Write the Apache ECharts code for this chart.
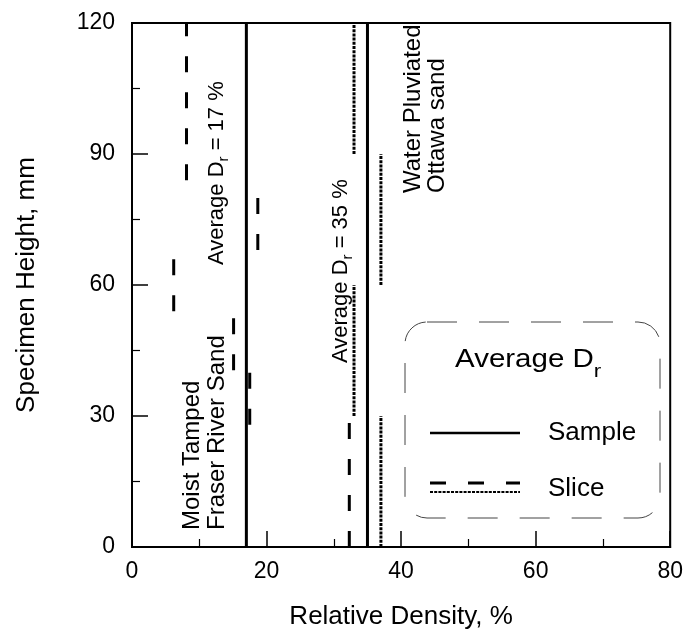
<!DOCTYPE html>
<html>
<head>
<meta charset="utf-8">
<script src="https://cdn.jsdelivr.net/npm/echarts@6/dist/echarts.min.js"></script>
<style>
  html, body { margin: 0; padding: 0; background: #fff; }
  #main { width: 686px; height: 635px; }
</style>
</head>
<body>
<div id="main"></div>
<script>
const xTicks = [0, 20, 40, 60, 80];
const yTicks = [0, 30, 60, 90, 120];
// average Dr of each whole sample (solid lines)
const sampleDr = [17, 35];
// slice values: [Dr %, bottom mm, top mm]
const fraserSlices = [
  [8.1, 84, 120],
  [18.7, 68, 80],
  [6.2, 54, 66],
  [15.1, 40.5, 53.5],
  [17.5, 28, 40.5],
  [32.3, 0, 29]
];
const ottawaSlices = [
  [33, 90, 120],
  [37, 60, 90],
  [33, 30, 60],
  [37, 0, 30]
];

const FONT = "'Liberation Sans', Arial, sans-serif";
const chart = echarts.init(document.getElementById("main"));

// measure text so the subscripts can sit right after the main text
const ctx = document.createElement("canvas").getContext("2d");
function textW(t, size) {
  ctx.font = size + "px " + FONT;
  return ctx.measureText(t).width;
}

// a row of text pieces (some sub-scripted), optionally rotated / stretched
function textRow(x, y, rot, pieces, sx) {
  let cx = 0;
  const children = pieces.map(p => {
    const el = {
      type: "text",
      x: cx,
      y: p.dy || 0,
      style: {
        text: p.t,
        font: p.size + "px " + FONT,
        fill: "#000",
        verticalAlign: "middle",
        align: "left"
      }
    };
    cx += textW(p.t, p.size);
    return el;
  });
  return { type: "group", x: x, y: y, rotation: rot, scaleX: sx || 1, children: children, silent: true };
}

const series = [];
sampleDr.forEach(v => {
  series.push({
    name: "Sample",
    type: "line",
    data: [[v, yTicks[0]], [v, yTicks[yTicks.length - 1]]],
    symbol: "none",
    lineStyle: { color: "#000", width: 3 }
  });
});
fraserSlices.forEach(s => {
  series.push({
    name: "Slice",
    type: "line",
    data: [[s[0], s[1]], [s[0], s[2]]],
    symbol: "none",
    lineStyle: { color: "#000", width: 3, type: [16, 20] }
  });
});
ottawaSlices.forEach(s => {
  series.push({
    name: "Slice",
    type: "line",
    data: [[s[0], s[1]], [s[0], s[2]]],
    symbol: "none",
    lineStyle: { color: "#000", width: 3, type: [3, 1.2] }
  });
});

const R = Math.PI / 2;
const option = {
  animation: false,
  grid: {
    left: 132, right: 14, top: 23, bottom: 88,
    show: true, borderColor: "#000", borderWidth: 2
  },
  xAxis: {
    type: "value",
    min: xTicks[0],
    max: xTicks[xTicks.length - 1],
    interval: 20,
    name: "Relative Density, %",
    nameLocation: "middle",
    nameGap: 57,
    nameTextStyle: { fontFamily: FONT, fontSize: 26, color: "#000" },
    axisLine: { lineStyle: { color: "#000", width: 2 } },
    axisTick: { inside: true, length: 16, lineStyle: { color: "#000", width: 1.5 } },
    minorTick: { show: true, splitNumber: 2, length: 8, lineStyle: { color: "#000", width: 1.2 } },
    splitLine: { show: false },
    axisLabel: { fontFamily: FONT, fontSize: 23, color: "#000", margin: 13 }
  },
  yAxis: {
    type: "value",
    min: yTicks[0],
    max: yTicks[yTicks.length - 1],
    interval: 30,
    name: "Specimen Height, mm",
    nameLocation: "middle",
    nameGap: 92,
    nameTextStyle: { fontFamily: FONT, fontSize: 26, color: "#000" },
    axisLine: { lineStyle: { color: "#000", width: 2 } },
    axisTick: { inside: true, length: 16, lineStyle: { color: "#000", width: 1.5 } },
    minorTick: { show: true, splitNumber: 2, length: 8, lineStyle: { color: "#000", width: 1.2 } },
    splitLine: { show: false },
    axisLabel: { fontFamily: FONT, fontSize: 23, color: "#000", margin: 17 }
  },
  series: series,
  graphic: [
    // annotations
    textRow(192, 530, R, [{ t: "Moist Tamped", size: 24 }]),
    textRow(217, 530, R, [{ t: "Fraser River Sand", size: 24 }]),
    textRow(413, 193, R, [{ t: "Water Pluviated", size: 24 }]),
    textRow(437, 193, R, [{ t: "Ottawa sand", size: 24 }]),
    textRow(217, 265, R, [
      { t: "Average D", size: 22 },
      { t: "r", size: 15, dy: 7 },
      { t: " = 17 %", size: 22 }
    ]),
    textRow(341, 363, R, [
      { t: "Average D", size: 22 },
      { t: "r", size: 15, dy: 7 },
      { t: " = 35 %", size: 22 }
    ]),
    // legend box
    {
      type: "rect",
      shape: { x: 405, y: 322, width: 255, height: 196, r: 22 },
      style: { fill: "none", stroke: "#444", lineWidth: 1, lineDash: [30, 22] },
      silent: true
    },
    textRow(455, 360, 0, [
      { t: "Average D", size: 25 },
      { t: "r", size: 19, dy: 12 }
    ], 1.18),
    {
      type: "line",
      shape: { x1: 430, y1: 433, x2: 520, y2: 433 },
      style: { stroke: "#000", lineWidth: 2.5 },
      silent: true
    },
    textRow(548, 433, 0, [{ t: "Sample", size: 26 }]),
    {
      type: "line",
      shape: { x1: 430, y1: 483, x2: 520, y2: 483 },
      style: { stroke: "#000", lineWidth: 3, lineDash: [16, 22] },
      silent: true
    },
    {
      type: "line",
      shape: { x1: 430, y1: 492, x2: 520, y2: 492 },
      style: { stroke: "#000", lineWidth: 2, lineDash: [3, 1.2] },
      silent: true
    },
    textRow(548, 489, 0, [{ t: "Slice", size: 26 }])
  ]
};
chart.setOption(option);
</script>
</body>
</html>
